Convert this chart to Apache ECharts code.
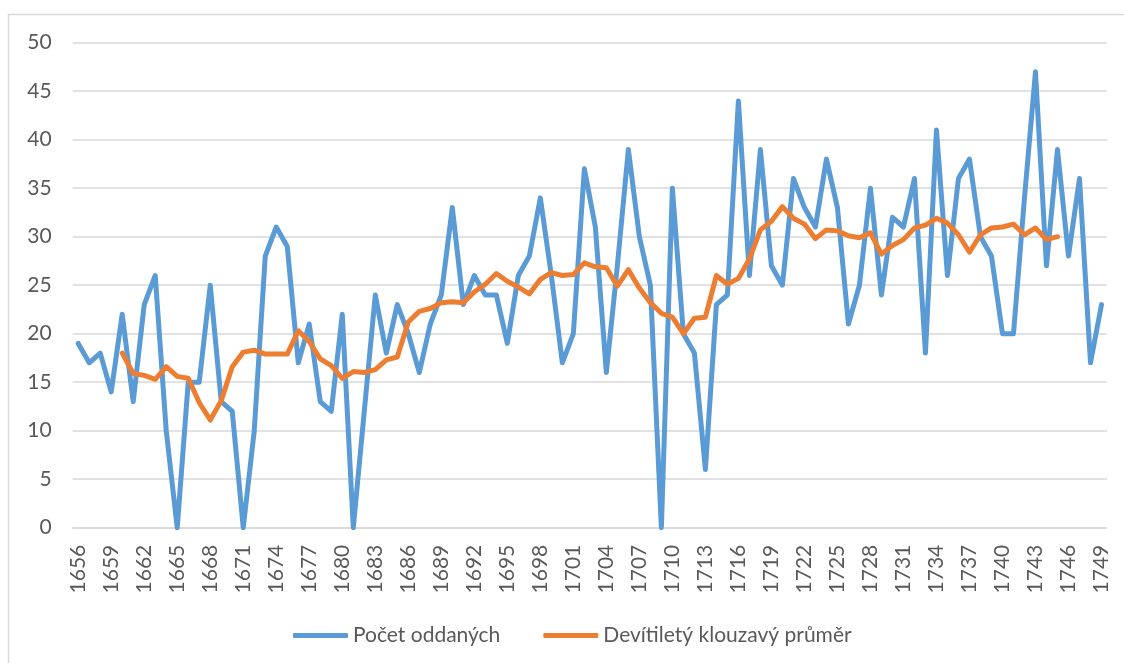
<!DOCTYPE html>
<html>
<head>
<meta charset="utf-8">
<script src="https://cdn.jsdelivr.net/npm/echarts@6/dist/echarts.min.js"></script>
<style>
html,body{margin:0;padding:0;background:#fff;}
#chart{width:1124px;height:663px;}
</style>
</head>
<body>
<div id="chart"></div>
<script>
const firstYear = 1656;
const lastYear = 1749;
const years = [];
for (let y = firstYear; y <= lastYear; y++) years.push(String(y));

const seriesNames = ['Počet oddaných', 'Devítiletý klouzavý průměr'];

// Počet oddaných, 1656–1749
const marriages = [
  19, 17, 18, 14, 22, 13, 23, 26, 10, 0,
  15, 15, 25, 13, 12, 0, 10, 28, 31, 29,
  17, 21, 13, 12, 22, 0, 12, 24, 18, 23,
  20, 16, 21, 24, 33, 23, 26, 24, 24, 19,
  26, 28, 34, 26, 17, 20, 37, 31, 16, 27,
  39, 30, 25, 0, 35, 20, 18, 6, 23, 24,
  44, 26, 39, 27, 25, 36, 33, 31, 38, 33,
  21, 25, 35, 24, 32, 31, 36, 18, 41, 26,
  36, 38, 30, 28, 20, 20, 34, 47, 27, 39,
  28, 36, 17, 23
];

// Devítiletý klouzavý průměr, 1660–1745
const avgStartYear = 1660;
const movingAvg = [
  18.0, 15.9, 15.7, 15.3, 16.6, 15.6, 15.4, 12.9, 11.1, 13.1,
  16.6, 18.1, 18.3, 17.9, 17.9, 17.9, 20.3, 19.2, 17.4, 16.7,
  15.4, 16.1, 16.0, 16.3, 17.3, 17.6, 21.2, 22.3, 22.6, 23.2,
  23.3, 23.2, 24.3, 25.1, 26.2, 25.4, 24.8, 24.1, 25.6, 26.3,
  26.0, 26.1, 27.3, 26.9, 26.8, 24.9, 26.6, 24.7, 23.2, 22.1,
  21.7, 20.0, 21.6, 21.7, 26.0, 25.1, 25.7, 27.7, 30.7, 31.6,
  33.1, 31.9, 31.3, 29.8, 30.7, 30.6, 30.1, 29.9, 30.4, 28.2,
  29.1, 29.7, 30.9, 31.2, 31.9, 31.4, 30.2, 28.4, 30.2, 30.9,
  31.0, 31.3, 30.2, 30.9, 29.7, 30.0
];

const yMin = 0, yMax = 50, yStep = 5;

const avgData = years.map((y, i) => {
  const k = Number(y) - avgStartYear;
  return (k >= 0 && k < movingAvg.length) ? movingAvg[k] : null;
});

const txt = '#595959';
const grid = '#D9D9D9';
const font = 'Lato, "Open Sans", sans-serif';

const chart = echarts.init(document.getElementById('chart'), null, {renderer: 'canvas'});
chart.setOption({
  animation: false,
  backgroundColor: '#ffffff',
  textStyle: {fontFamily: font},
  graphic: [{
    type: 'rect',
    shape: {x: 8.5, y: 14.5, width: 1300, height: 800},
    style: {fill: 'none', stroke: grid, lineWidth: 1.5},
    silent: true
  }],
  grid: {left: 72.7, right: 17, top: 42.7, bottom: 135.3, containLabel: false},
  legend: {
    left: 288,
    top: 620,
    itemWidth: 55,
    itemHeight: 5,
    itemGap: 43,
    icon: 'roundRect',
    textStyle: {color: txt, fontSize: 21, fontFamily: font, padding: [0, 0, 0, 0]},
    data: seriesNames
  },
  xAxis: {
    type: 'category',
    data: years,
    boundaryGap: true,
    axisLine: {lineStyle: {color: grid, width: 1.5}},
    axisTick: {show: false},
    axisLabel: {
      interval: 2,
      rotate: 90,
      margin: 17,
      color: txt,
      fontSize: 21,
      fontFamily: font
    },
    splitLine: {show: false}
  },
  yAxis: {
    type: 'value',
    min: yMin,
    max: yMax,
    interval: yStep,
    axisLine: {show: false},
    axisTick: {show: false},
    axisLabel: {margin: 21, color: txt, fontSize: 21, fontFamily: font},
    splitLine: {lineStyle: {color: grid, width: 1.5}}
  },
  series: [
    {
      name: seriesNames[0],
      type: 'line',
      data: marriages,
      showSymbol: false,
      symbol: 'none',
      color: '#5B9BD5',
      lineStyle: {color: '#5B9BD5', width: 5, cap: 'round', join: 'round'},
      itemStyle: {color: '#5B9BD5'}
    },
    {
      name: seriesNames[1],
      type: 'line',
      data: avgData,
      showSymbol: false,
      symbol: 'none',
      connectNulls: false,
      color: '#ED7D31',
      lineStyle: {color: '#ED7D31', width: 5, cap: 'round', join: 'round'},
      itemStyle: {color: '#ED7D31'}
    }
  ]
});
</script>
</body>
</html>
